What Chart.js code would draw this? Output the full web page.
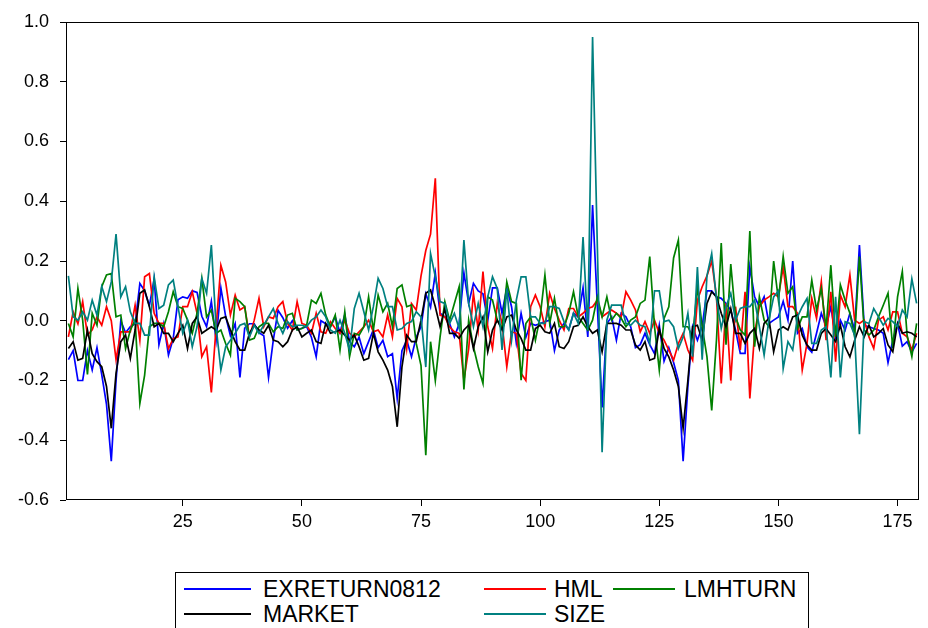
<!DOCTYPE html>
<html lang="en">
<head>
<meta charset="UTF-8">
<script src="https://cdn.jsdelivr.net/npm/chart.js"></script>
<style>
  html, body { margin: 0; padding: 0; background: #fff; }
  #wrap { position: relative; width: 928px; height: 628px; overflow: hidden; }
  #legend {
    position: absolute; left: 175px; top: 572px; width: 634px; height: 70px;
    border: 1px solid #000; box-sizing: border-box; background: #fff;
    font-family: "Liberation Sans", Arial, sans-serif; font-size: 23px; color: #000;
  }
  .item { position: absolute; height: 24px; }
  .item .ln { position: absolute; left: 0; top: 11px; height: 0; border-top: 2px solid; }
  .item span { position: absolute; top: 0; line-height: 24px; white-space: nowrap; }
</style>
</head>
<body>
<div id="wrap">
  <canvas id="myChart" width="928" height="628"></canvas>
  <div id="legend"></div>
</div>
<script>
// tick labels
const xTicks = [25, 50, 75, 100, 125, 150, 175];
const yTicks = [-0.6, -0.4, -0.2, 0.0, 0.2, 0.4, 0.6, 0.8, 1.0];

// series (observations 1..179)
const exreturn0812 = [
  -0.13, -0.10, -0.20, -0.20, -0.10, -0.165, -0.09, -0.18, -0.28, -0.47, -0.20, 0.0, -0.04, -0.02,
  -0.01, 0.125, 0.10, 0.05, 0.14, -0.08, -0.01, -0.115, -0.06, 0.07, 0.08, 0.075, 0.10, 0.095, 0.015,
  -0.02, 0.065, -0.065, 0.11, 0.015, -0.05, -0.01, -0.19, -0.025, -0.01, -0.01, -0.04, -0.05, -0.19, -0.065,
  0.035, 0.01, -0.025, 0.0, -0.03, -0.025, -0.02, -0.055, -0.12, 0.0, -0.01, -0.02, 0.013, -0.04, 0.02, -0.07,
  -0.087, -0.055, -0.11, -0.07, -0.03, -0.09, -0.065, -0.12, -0.11, -0.26, -0.10, -0.065, -0.12, -0.055, -0.02,
  0.09, 0.045, 0.16, 0.025, 0.013, -0.01, -0.054, -0.01, 0.16, 0.058, 0.125, 0.10, 0.09, 0.0, 0.11,
  0.11, 0.025, 0.11, 0.047, -0.075, 0.025, -0.055, -0.009, -0.015, -0.009, -0.003, 0.002, -0.10, -0.031, -0.009,
  -0.03, 0.025, 0.013, 0.11, -0.054, 0.387, 0.05, -0.29, -0.009, 0.013, -0.065, 0.025, 0.013, -0.02, -0.09,
  -0.08, -0.042, -0.08, -0.11, -0.015, -0.135, -0.09, -0.14, -0.20, -0.47, -0.22, -0.02, -0.065, -0.02, 0.10,
  0.10, 0.08, 0.075, 0.058, 0.036, -0.031, -0.109, -0.109, 0.18, 0.08, 0.047, 0.08, -0.009, 0.002, 0.013,
  0.065, 0.002, 0.20, -0.042, -0.026, -0.087, -0.105, -0.042, 0.025, -0.02, 0.047, -0.054, 0.002, -0.031, 0.025,
  -0.031, 0.253, -0.015, -0.02, -0.026, -0.031, -0.042, -0.14, -0.065, -0.009, -0.085, -0.07, -0.105, -0.076
];
const hml = [
  -0.054, 0.03, -0.01, 0.064, -0.048, -0.03, 0.013, -0.015, 0.047, 0.0, -0.13, -0.037, -0.037, -0.037,
  0.052, -0.065, 0.147, 0.158, 0.025, -0.009, -0.009, -0.093, -0.06, -0.054, 0.047, 0.047, 0.097, 0.025, -0.12,
  -0.087, -0.24, -0.02, 0.186, 0.13, 0.019, 0.086, 0.036, 0.047, -0.054, 0.002, 0.075, -0.02, 0.013, 0.008,
  0.047, 0.064, -0.009, -0.031, 0.064, -0.009, -0.015, -0.042, 0.025, -0.037, -0.042, -0.003, -0.026, -0.042, 0.002, -0.042,
  -0.054, -0.037, -0.02, 0.002, -0.037, -0.031, -0.054, 0.019, -0.054, 0.075, 0.047, -0.093, 0.058, 0.036, 0.15,
  0.235, 0.29, 0.477, 0.019, 0.013, -0.02, -0.037, -0.042, -0.20, -0.093, 0.092, -0.031, 0.165, -0.02, -0.093,
  0.058, -0.009, -0.154, -0.037, -0.042, -0.176, -0.20, 0.047, 0.086, 0.047, -0.02, 0.092, 0.041, 0.002, -0.031,
  0.041, 0.041, 0.013, 0.025, 0.041, 0.047, 0.069, 0.013, 0.025, 0.036, 0.025, 0.013, 0.097, 0.069, 0.036,
  -0.037, -0.003, -0.042, 0.002, -0.042, -0.065, -0.098, -0.132, -0.076, -0.042, -0.098, -0.132, 0.069, 0.114, 0.15,
  0.20, 0.08, -0.21, 0.058, -0.20, 0.047, -0.098, 0.097, -0.26, -0.042, 0.047, 0.069, 0.08, 0.092, 0.08,
  0.18, 0.047, 0.047, 0.025, -0.165, -0.076, 0.075, 0.008, 0.13, -0.065, 0.097, -0.137, 0.086, 0.047, 0.153,
  0.002, -0.009, 0.002, -0.054, -0.093, 0.002, 0.013, -0.031, 0.03, 0.03, -0.042, -0.054, -0.098, -0.042
];
const lmhturn = [
  -0.009, -0.054, 0.108, 0.002, -0.18, 0.025, -0.015, 0.114, 0.153, 0.158, 0.013, 0.019, -0.093, -0.031,
  0.002, -0.277, -0.182, -0.02, -0.009, -0.009, -0.02, 0.03, 0.097, 0.047, 0.041, 0.002, -0.042, 0.025, 0.142,
  0.013, 0.036, -0.042, -0.031, -0.076, -0.115, 0.075, 0.064, 0.047, -0.065, -0.059, -0.02, -0.009, -0.009, -0.037,
  -0.02, -0.026, 0.019, 0.025, -0.031, -0.026, -0.015, 0.069, 0.058, 0.092, 0.019, -0.02, 0.019, -0.098, 0.03, -0.12,
  -0.042, -0.048, -0.02, 0.08, -0.031, 0.086, 0.03, 0.058, -0.02, 0.108, 0.12, 0.047, 0.053, -0.076, -0.15,
  -0.45, -0.07, -0.20, -0.054, 0.064, 0.002, 0.058, 0.114, -0.23, 0.002, -0.087, -0.154, -0.21, 0.08, 0.069,
  0.002, -0.026, 0.13, 0.064, 0.058, -0.199, -0.009, 0.013, -0.065, 0.013, 0.153, -0.009, 0.075, -0.02, -0.02,
  0.025, 0.097, 0.013, -0.009, -0.031, 0.002, 0.08, 0.013, 0.08, 0.002, 0.025, 0.008, -0.02, 0.002, 0.013,
  0.058, 0.069, 0.215, -0.02, -0.165, 0.008, 0.047, 0.21, 0.27, -0.02, -0.02, -0.054, 0.114, -0.02, -0.12,
  -0.30, -0.065, 0.26, -0.08, 0.19, 0.013, -0.031, -0.048, 0.30, -0.087, 0.08, 0.002, -0.02, 0.20, 0.069,
  0.215, 0.092, 0.114, -0.026, 0.013, 0.013, 0.136, 0.036, 0.108, -0.026, 0.186, -0.054, 0.12, 0.069, 0.025,
  -0.054, 0.215, -0.031, -0.048, -0.031, 0.013, 0.052, 0.092, -0.093, 0.08, 0.165, -0.048, -0.12, -0.009
];
const market = [
  -0.093, -0.07, -0.132, -0.126, -0.031, -0.11, -0.137, -0.154, -0.22, -0.36, -0.176, -0.07, -0.048, -0.126,
  -0.031, 0.092, 0.103, 0.047, -0.02, -0.009, -0.042, -0.042, -0.07, -0.042, -0.015, -0.093, -0.009, 0.013, -0.042,
  -0.031, -0.02, -0.031, 0.008, 0.013, -0.031, -0.07, -0.098, -0.098, -0.042, -0.015, -0.031, -0.042, -0.015, -0.065,
  -0.07, -0.087, -0.07, -0.031, -0.02, -0.054, -0.042, -0.031, -0.07, -0.076, -0.009, -0.042, -0.037, -0.031, -0.048, -0.065,
  -0.048, -0.087, -0.132, -0.126, -0.042, -0.104, -0.132, -0.165, -0.22, -0.355, -0.154, -0.048, -0.07, -0.07, 0.002,
  0.092, 0.103, 0.047, -0.02, 0.041, -0.042, -0.042, -0.059, -0.031, -0.015, -0.093, -0.02, 0.013, -0.104, -0.031,
  0.002, -0.031, 0.013, 0.019, -0.031, -0.059, -0.098, -0.098, -0.026, -0.015, -0.037, -0.042, -0.009, -0.087, -0.093,
  -0.07, -0.02, -0.015, 0.013, -0.02, -0.042, -0.031, -0.104, -0.009, -0.009, -0.009, -0.015, -0.031, -0.031, -0.081,
  -0.098, -0.07, -0.132, -0.126, -0.026, -0.093, -0.121, -0.165, -0.22, -0.36, -0.20, -0.02, -0.015, -0.065, 0.058,
  0.097, 0.08, 0.025, -0.02, 0.041, -0.042, -0.042, -0.076, -0.042, -0.026, -0.093, -0.009, 0.008, -0.104, -0.031,
  -0.02, -0.031, 0.013, 0.019, -0.048, -0.081, -0.098, -0.098, -0.042, -0.026, -0.048, -0.07, -0.015, -0.087, -0.121,
  -0.065, -0.02, -0.054, -0.015, -0.054, -0.042, -0.026, -0.081, -0.104, -0.009, -0.042, -0.037, -0.042, -0.054
];
const size = [
  0.15, 0.013, 0.002, 0.03, 0.002, 0.069, 0.019, 0.114, 0.064, 0.13, 0.29, 0.08, 0.114, 0.03,
  -0.009, -0.009, -0.048, -0.048, 0.147, 0.041, 0.052, 0.12, 0.136, 0.047, -0.042, 0.002, -0.087, -0.02, 0.142,
  0.092, 0.253, -0.02, -0.165, -0.087, -0.065, -0.042, -0.015, -0.009, -0.054, -0.015, -0.042, -0.015, 0.013, 0.041,
  -0.009, -0.042, -0.003, -0.02, -0.015, -0.015, -0.02, 0.002, 0.013, 0.036, 0.013, -0.031, -0.042, 0.002, -0.042, -0.098,
  0.041, 0.092, 0.03, -0.031, 0.047, 0.142, 0.108, 0.047, 0.047, -0.031, -0.026, -0.009, -0.003, 0.03, 0.013,
  -0.155, 0.225, 0.147, 0.064, 0.058, -0.009, 0.025, -0.026, 0.27, 0.058, -0.02, 0.058, -0.02, 0.08, 0.147,
  0.108, -0.098, 0.108, -0.065, 0.069, 0.147, 0.147, 0.013, 0.013, -0.009, -0.009, 0.047, 0.047, 0.041, -0.003,
  -0.031, 0.025, -0.009, 0.28, -0.031, 0.95, 0.25, -0.44, 0.002, 0.052, 0.052, 0.052, -0.009, -0.015, 0.002,
  -0.015, -0.02, -0.076, 0.10, 0.10, -0.003, 0.002, -0.02, -0.093, -0.054, 0.025, -0.12, 0.18, -0.13, 0.15,
  0.225, 0.075, -0.026, 0.047, 0.092, 0.002, 0.041, 0.047, 0.047, 0.069, -0.02, -0.115, 0.002, 0.08, 0.10,
  -0.16, -0.07, -0.098, 0.013, 0.047, 0.075, -0.076, -0.076, -0.031, -0.02, -0.19, 0.08, -0.19, -0.003, -0.009,
  -0.048, -0.38, -0.003, -0.009, 0.041, 0.013, -0.015, 0.008, -0.003, -0.02, 0.036, 0.013, 0.14, 0.058
];

const names = ['EXRETURN0812', 'HML', 'LMHTURN', 'MARKET', 'SIZE'];
const colors = ['#0000ff', '#ff0000', '#008000', '#000000', '#008080'];
const seriesList = [exreturn0812, hml, lmhturn, market, size];

const toPoints = arr => arr.map((v, i) => ({ x: i + 1, y: v }));

// box around the plot area
const frame = {
  id: 'frame',
  afterDatasetsDraw(chart) {
    const a = chart.chartArea, c = chart.ctx;
    c.save();
    c.strokeStyle = '#000';
    c.lineWidth = 1;
    c.strokeRect(a.left + 0.5, a.top + 0.5, a.right - a.left - 1, a.bottom - a.top - 1);
    c.restore();
  }
};

const tickFont = { family: '"Liberation Sans", Arial, sans-serif', size: 18 };

new Chart(document.getElementById('myChart').getContext('2d'), {
  type: 'line',
  data: {
    datasets: seriesList.map((arr, k) => ({
      label: names[k],
      data: toPoints(arr),
      borderColor: colors[k],
      borderWidth: 1.7,
      pointRadius: 0,
      tension: 0,
      fill: false,
      order: seriesList.length - k
    }))
  },
  options: {
    responsive: false,
    animation: false,
    events: [],
    layout: { padding: { top: 22, right: 9, left: 0, bottom: 0 } },
    plugins: { legend: { display: false }, tooltip: { enabled: false } },
    scales: {
      x: {
        type: 'linear',
        min: 0.5,
        max: 179.5,
        afterFit: s => { s.height = 128; },
        afterBuildTicks: s => { s.ticks = xTicks.map(v => ({ value: v })); },
        grid: { display: true, drawOnChartArea: false, drawTicks: true, tickLength: 6, color: '#000' },
        border: { display: false },
        ticks: { color: '#000', font: tickFont, padding: 5, maxRotation: 0, callback: v => String(v) }
      },
      y: {
        min: -0.6,
        max: 1.0,
        afterFit: s => { s.width = 66; },
        afterBuildTicks: s => { s.ticks = yTicks.map(v => ({ value: v })); },
        grid: { display: true, drawOnChartArea: false, drawTicks: true, tickLength: 6, color: '#000' },
        border: { display: false },
        ticks: { color: '#000', font: tickFont, padding: 11, callback: v => Number(v).toFixed(1) }
      }
    }
  },
  plugins: [frame]
});

// legend, three columns: [line left, top, line width, text left]
const slots = [[8, 4, 67, 87], [308, 4, 62, 378], [437, 4, 62, 508], [8, 29, 67, 87], [308, 29, 62, 378]];
const legendEl = document.getElementById('legend');
names.forEach((n, k) => {
  const [lx, ty, lw, tx] = slots[k];
  const d = document.createElement('div');
  d.className = 'item';
  d.style.left = lx + 'px';
  d.style.top = ty + 'px';
  d.innerHTML = `<div class="ln" style="width:${lw}px;border-color:${colors[k]}"></div>` +
                `<span style="left:${tx - lx}px">${n}</span>`;
  legendEl.appendChild(d);
});
</script>
</body>
</html>
